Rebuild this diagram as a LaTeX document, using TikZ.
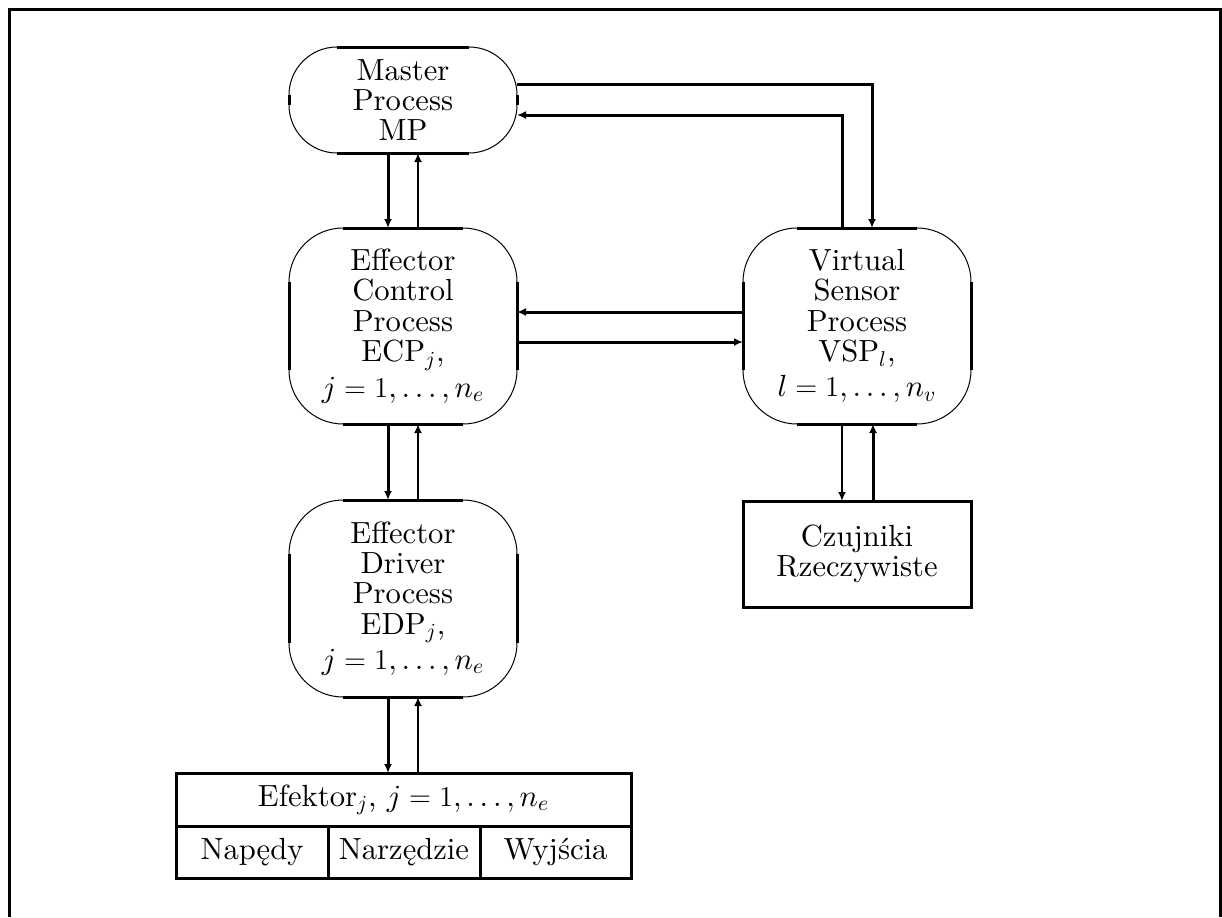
\documentclass[tikz,border=0pt]{standalone}
\usepackage{fontspec}
\setmainfont{lmroman10}[Extension=.otf,UprightFont=*-regular,ItalicFont=*-italic,
  BoldFont=*-bold,BoldItalicFont=*-bolditalic]
\DeclareFontShape{OML}{cmm}{m}{it}{<->cmmi10}{}
\usetikzlibrary{arrows.meta,calc}

% thick straight sides over a thin rounded outline
\newcommand\straightedges[3]{%
  \draw[boxedge] ($(#1.north west)+(#2,0)$) -- ($(#1.north east)+(-#2,0)$);
  \draw[boxedge] ($(#1.south west)+(#2,0)$) -- ($(#1.south east)+(-#2,0)$);
  \draw[boxedge] ($(#1.north west)+(0,#3)$) -- ($(#1.south west)+(0,-#3)$);
  \draw[boxedge] ($(#1.north east)+(0,#3)$) -- ($(#1.south east)+(0,-#3)$);}

\begin{document}
\begin{tikzpicture}[x=0.5pt,y=-0.5pt,
  txt/.style={font=\fontsize{15.3pt}{15.2pt}\selectfont},
  proc/.style={txt,draw,line width=0.5pt,rounded corners=#1,outer sep=0pt,
    inner sep=0pt,minimum width=114pt,align=center},
  boxedge/.style={line width=1.5pt,line cap=butt},
  plainbox/.style={txt,draw,line width=1.5pt,outer sep=0pt,inner sep=0pt,align=center},
  flowthick/.style={line width=1.5pt,-{Latex[length=4.5pt,width=4pt]}},
  flowthin/.style={line width=1.1pt,-{Latex[length=4.5pt,width=4pt]}}]

\useasboundingbox (0,0) rectangle (1222,917);

% page frame (open at the bottom)
\draw[line width=1.5pt] (9.75,917) -- (9.75,9) -- (1220.5,9) -- (1220.5,917);

% processes
\node[proc=24pt,minimum height=53pt] (mp) at (403,100) {Master\\Process\\MP};
\node[proc=27pt,minimum height=98pt] (ecp) at (403,326)
  {Effector\\Control\\Process\\ECP$_j$,\\[2.5pt]$j=1,\ldots,n_e$};
\node[proc=27pt,minimum height=98pt] (vsp) at (857,326)
  {Virtual\\Sensor\\Process\\VSP$_l$,\\[2.5pt]$l=1,\ldots,n_v$};
\node[proc=27pt,minimum height=98.5pt] (edp) at (403,598.5)
  {Effector\\Driver\\Process\\EDP$_j$,\\[2.5pt]$j=1,\ldots,n_e$};
\straightedges{mp}{48}{48}
\straightedges{ecp}{54}{54}
\straightedges{vsp}{54}{54}
\straightedges{edp}{54}{54}

% real sensors
\node[plainbox,minimum width=114pt,minimum height=53pt] (czu) at (857,554)
  {Czujniki\\Rzeczywiste};

% effector table
\node[plainbox,minimum width=227.5pt,minimum height=26.5pt] (efk) at (403.5,799.5)
  {Efektor$_j$, $j=1,\ldots,n_e$};
\node[plainbox,minimum width=76pt,minimum height=26pt] (nap) at (252,852) {Napędy};
\node[plainbox,minimum width=76pt,minimum height=26pt] (nar) at (404,852) {Narzędzie};
\node[plainbox,minimum width=75.5pt,minimum height=26pt] (wyj) at (555.5,852) {Wyjścia};

% MP <-> ECP
\draw[flowthick] ($(mp.south)+(-15,0)$) -- ($(ecp.north)+(-15,0)$);
\draw[flowthin] ($(ecp.north)+(15,0)$) -- ($(mp.south)+(15,0)$);
% ECP <-> EDP
\draw[flowthick] ($(ecp.south)+(-15,0)$) -- ($(edp.north)+(-15,0)$);
\draw[flowthin] ($(edp.north)+(15,0)$) -- ($(ecp.south)+(15,0)$);
% EDP <-> effector
\draw[flowthick] ($(edp.south)+(-15,0)$) -- ($(efk.north)+(-15.5,0)$);
\draw[flowthin] ($(efk.north)+(14.5,0)$) -- ($(edp.south)+(15,0)$);
% VSP <-> sensors
\draw[flowthin] ($(vsp.south)+(-15,0)$) -- ($(czu.north)+(-15,0)$);
\draw[flowthick] ($(czu.north)+(16,0)$) -- ($(vsp.south)+(16,0)$);
% ECP <-> VSP
\draw[flowthick] ($(vsp.west)+(0,-14)$) -- ($(ecp.east)+(0,-14)$);
\draw[flowthick] ($(ecp.east)+(0,16)$) -- ($(vsp.west)+(0,16)$);
% MP <-> VSP
\draw[flowthick] ($(mp.north east)+(0,37)$) -| ($(vsp.north)+(15,0)$);
\draw[flowthick] ($(vsp.north)+(-15,0)$) |- ($(mp.north east)+(0,68)$);
\end{tikzpicture}
\end{document}
